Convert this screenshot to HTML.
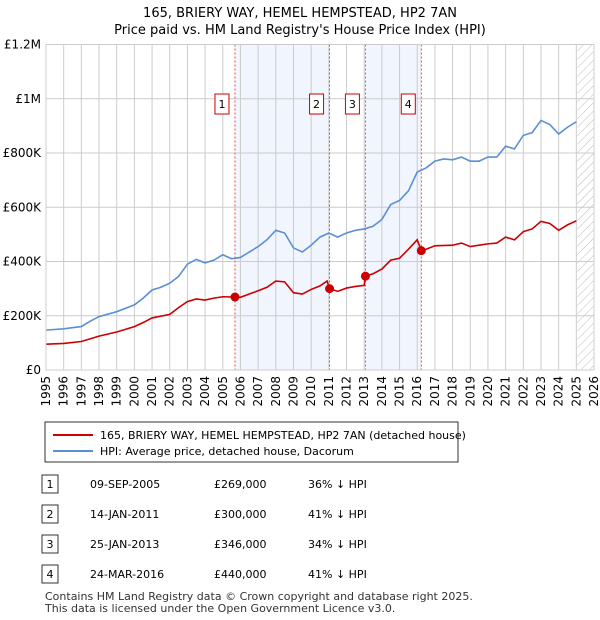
<!DOCTYPE html>
<html><head><meta charset="utf-8"><style>
body{margin:0;background:#fff;font-family:"DejaVu Sans","Liberation Sans",sans-serif;}
#c{position:relative;width:600px;height:620px;overflow:hidden}
</style></head><body><div id="c">
<svg id="s" width="600" height="620" xmlns="http://www.w3.org/2000/svg" font-family="DejaVu Sans, Liberation Sans, sans-serif">
<defs><pattern id="h" width="6" height="6" patternUnits="userSpaceOnUse" patternTransform="rotate(45)"><line x1="0" y1="0" x2="0" y2="6" stroke="#bbb" stroke-width="1"/></pattern></defs>
<text x="300" y="17" text-anchor="middle" font-size="13">165, BRIERY WAY, HEMEL HEMPSTEAD, HP2 7AN</text>
<text x="300" y="34" text-anchor="middle" font-size="13">Price paid vs. HM Land Registry's House Price Index (HPI)</text>
<g id="plot"></g>
<rect x="45" y="422" width="413" height="40" fill="#fff" stroke="#000" stroke-width="0.8"/>
<line x1="53" y1="435" x2="93" y2="435" stroke="#cc0000" stroke-width="2"/>
<text x="100" y="439" font-size="11">165, BRIERY WAY, HEMEL HEMPSTEAD, HP2 7AN (detached house)</text>
<line x1="53" y1="451" x2="93" y2="451" stroke="#5b8fd4" stroke-width="2"/>
<text x="100" y="455" font-size="11">HPI: Average price, detached house, Dacorum</text>
<g id="tbl" font-size="11"></g>
<text x="45" y="600" font-size="11" fill="#333">Contains HM Land Registry data © Crown copyright and database right 2025.</text>
<text x="45" y="612" font-size="11" fill="#333">This data is licensed under the Open Government Licence v3.0.</text>
</svg></div>
<script>
const hpiYears=[1995,1996,1997,1997.5,1998,1999,2000,2000.5,2001,2001.5,2002,2002.5,2003,2003.5,2004,2004.5,2005,2005.5,2006,2006.5,2007,2007.5,2008,2008.5,2009,2009.5,2010,2010.5,2011,2011.5,2012,2012.5,2013,2013.5,2014,2014.5,2015,2015.5,2016,2016.5,2017,2017.5,2018,2018.5,2019,2019.5,2020,2020.5,2021,2021.5,2022,2022.5,2023,2023.5,2024,2024.5,2025];
const hpiValues=[147,152,160,180,197,215,240,265,295,305,320,345,390,408,395,405,425,410,415,435,455,480,515,505,450,435,460,490,505,490,505,515,520,530,555,610,625,660,730,745,770,778,775,785,770,770,785,785,825,815,865,875,920,905,870,895,915];
const priceYears=[1995,1996,1997,1998,1999,2000,2000.5,2001,2002,2002.5,2003,2003.5,2004,2004.5,2005,2005.69,2006,2006.5,2007,2007.5,2008,2008.5,2009,2009.5,2010,2010.5,2010.9,2011.04,2011.5,2012,2012.5,2013.0,2013.07,2013.5,2014,2014.5,2015,2015.5,2016.0,2016.23,2016.5,2017,2018,2018.5,2019,2019.5,2020,2020.5,2021,2021.5,2022,2022.5,2023,2023.5,2024,2024.5,2025];
const priceValues=[95,98,105,125,140,160,175,192,205,230,252,262,258,265,270,269,268,280,292,305,328,325,285,280,297,310,328,300,290,302,308,312,346,355,372,405,412,445,480,440,445,458,460,468,455,460,465,468,490,480,510,520,548,540,515,535,550];
const saleYears=[2005.69,2011.04,2013.07,2016.23];
const saleValues=[269,300,346,440];
const saleLabels=["1","2","3","4"];
const saleDates=["09-SEP-2005","14-JAN-2011","25-JAN-2013","24-MAR-2016"];
const salePrices=["£269,000","£300,000","£346,000","£440,000"];
const saleDiffs=["36% ↓ HPI","41% ↓ HPI","34% ↓ HPI","41% ↓ HPI"];
const yTicks=[0,200,400,600,800,1000,1200];
const yTickLabels=["£0","£200K","£400K","£600K","£800K","£1M","£1.2M"];
const X0=46,X1=594,Y0=370,Y1=44.5;
const sx=y=>X0+(y-1995)/(2026-1995)*(X1-X0);
const sy=v=>Y0-v/1200*(Y0-Y1);
const NS="http://www.w3.org/2000/svg";
const g=document.getElementById('plot');
function mk(t,a,p){const e=document.createElementNS(NS,t);for(const k in a)e.setAttribute(k,a[k]);(p||g).appendChild(e);return e;}
for(const [a,b] of [[0,1],[2,3]]){const r=mk('rect',{x:sx(saleYears[a]),y:Y1,width:sx(saleYears[b])-sx(saleYears[a]),height:Y0-Y1,fill:'#eef3fc',opacity:0.8});

}
const hr=mk('rect',{x:sx(2025.05),y:Y1,width:X1-sx(2025.05),height:Y0-Y1,fill:'url(#h)'});


for(let y=1995;y<=2026;y++){const l=mk('line',{x1:sx(y),x2:sx(y),y1:Y1,y2:Y0,stroke:'#ccc','stroke-width':1});


const wrap=mk('g',{transform:'translate('+(sx(y)+4)+','+(Y0+6)+') rotate(-90)'});
const t=mk('text',{x:0,y:0,'font-size':12,'text-anchor':'end'},wrap);t.textContent=y;

}
yTicks.forEach((v,i)=>{const l=mk('line',{x1:X0,x2:X1,y1:sy(v),y2:sy(v),stroke:'#ccc','stroke-width':1});


const t=mk('text',{x:X0-5,y:sy(v)+4,'font-size':12,'text-anchor':'end'});t.textContent=yTickLabels[i];

});
saleYears.forEach((y,i)=>{const l=mk('line',{x1:sx(y),x2:sx(y),y1:Y1,y2:Y0,stroke:'#e05050','stroke-width':1,'stroke-dasharray':'2,2'});


const bx=sx(y)-13;const r=mk('rect',{x:bx-7,y:94,width:14,height:20,fill:'#fff',stroke:'#cc0000','stroke-width':1});


const t=mk('text',{x:bx,y:108,'font-size':11,'text-anchor':'middle'});t.textContent=saleLabels[i];

});
function line(xs,vs,c,n){const p=mk('polyline',{points:xs.map((x,i)=>sx(x)+','+sy(vs[i])).join(' '),fill:'none',stroke:c,'stroke-width':1.6});

}
line(hpiYears,hpiValues,'#5b8fd4','hpi-line');
line(priceYears,priceValues,'#cc0000','price-line');
saleYears.forEach((y,i)=>{const c=mk('circle',{cx:sx(y),cy:sy(saleValues[i]),r:4.5,fill:'#cc0000'});

});
mk('rect',{x:X0,y:Y1,width:X1-X0,height:Y0-Y1,fill:'none',stroke:'#ccc'});
const tb=document.getElementById('tbl');
saleYears.forEach((y,i)=>{const ry=484+i*30;
const r=mk('rect',{x:42,y:ry-9,width:16,height:18,fill:'#fff',stroke:'#000','stroke-width':0.8},tb);


const cols=[[50,saleLabels[i],'middle'],[90,saleDates[i],'start'],[214,salePrices[i],'start'],[308,saleDiffs[i],'start']];
cols.forEach(c=>{const t=mk('text',{x:c[0],y:ry+4,'text-anchor':c[2]},tb);t.textContent=c[1];

});});
</script></body></html>
